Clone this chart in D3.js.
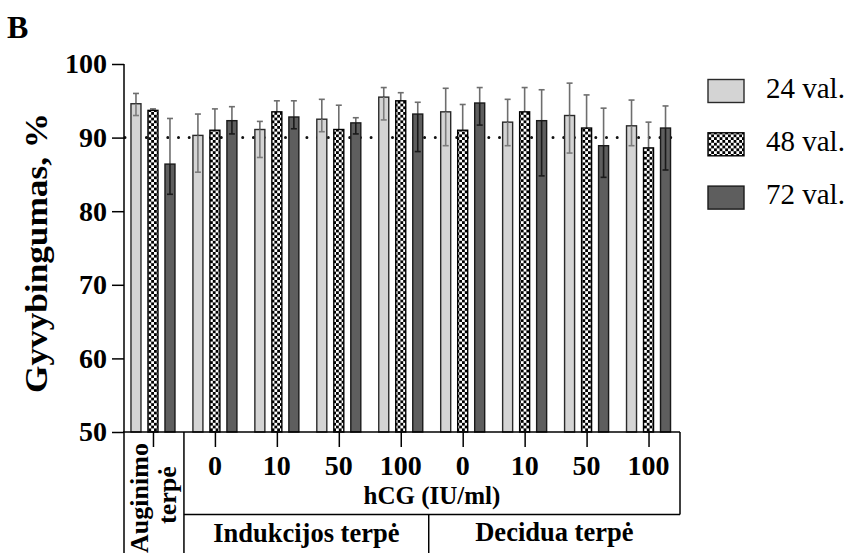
<!DOCTYPE html>
<html>
<head>
<meta charset="utf-8">
<script src="https://cdn.jsdelivr.net/npm/d3@7"></script>
<style>
  html, body { margin: 0; padding: 0; background: #fff; }
  svg { display: block; }
  text { font-family: "Liberation Serif", "Times New Roman", serif; fill: #000; }
</style>
</head>
<body>
<svg id="chart" width="851" height="553"></svg>
<script>
// Viability (%) per medium / hCG dose, measured after 24, 48 and 72 h
const groups = ["aug", "ind0", "ind10", "ind50", "ind100", "dec0", "dec10", "dec50", "dec100"];
const doseLabels = ["", "0", "10", "50", "100", "0", "10", "50", "100"];
const seriesNames = ["24 val.", "48 val.", "72 val."];

const values24 = [94.6, 90.3, 91.1, 92.5, 95.5, 93.5, 92.1, 93.0, 91.6];
const values48 = [93.7, 91.0, 93.5, 91.1, 95.0, 91.0, 93.5, 91.3, 88.6];
const values72 = [86.4, 92.3, 92.8, 92.0, 93.2, 94.7, 92.3, 88.9, 91.3];

// upper / lower whisker lengths
const errUp24 = [1.4, 2.9, 1.1, 2.7, 1.3, 3.2, 3.1, 4.4, 3.5];
const errDn24 = [1.6, 5.0, 3.8, 1.7, 3.1, 4.6, 3.2, 5.1, 2.7];
const errUp48 = [0.2, 2.9, 1.5, 3.3, 1.1, 3.5, 3.3, 4.5, 3.5];
const errDn48 = [0.2, 2.9, 1.5, 3.3, 1.1, 3.5, 3.3, 4.5, 3.5];
const errUp72 = [6.2, 1.9, 2.2, 0.7, 1.6, 2.1, 4.2, 5.1, 3.0];
const errDn72 = [4.1, 1.8, 1.6, 1.5, 5.1, 3.0, 7.5, 4.3, 5.7];

const yTicks = [50, 60, 70, 80, 90, 100];
const referenceLevel = 90;

const series = [
  { name: seriesNames[0], values: values24, up: errUp24, dn: errDn24, fill: "#d4d4d4", stroke: "#2a2a2a", inner: "#7c7c7c" },
  { name: seriesNames[1], values: values48, up: errUp48, dn: errDn48, fill: "url(#checker)", stroke: "#000", inner: null },
  { name: seriesNames[2], values: values72, up: errUp72, dn: errDn72, fill: "#5e5e5e", stroke: "#1a1a1a", inner: "#1a1a1a" }
];

const svg = d3.select("#chart");

// checkerboard fill for the 48 h bars
const defs = svg.append("defs");
const pat = defs.append("pattern")
  .attr("id", "checker").attr("patternUnits", "userSpaceOnUse")
  .attr("width", 5.6).attr("height", 5.6);
pat.append("rect").attr("width", 5.6).attr("height", 5.6).attr("fill", "#fff");
pat.append("rect").attr("width", 2.8).attr("height", 2.8).attr("fill", "#000");
pat.append("rect").attr("x", 2.8).attr("y", 2.8).attr("width", 2.8).attr("height", 2.8).attr("fill", "#000");

const axisX = 124, plotTop = 64, plotBottom = 432, plotRight = 680;

const y = d3.scaleLinear().domain([50, 100]).range([plotBottom, plotTop]);
const x = d3.scaleBand().domain(groups).range([122, 679.5]);
const inner = d3.scalePoint().domain(seriesNames).range([-17, 17]);
const barW = 10;
const cx = g => x(g) + x.bandwidth() / 2;

// panel letter
svg.append("text").attr("x", 7).attr("y", 38)
  .attr("font-size", 32).attr("font-weight", "bold").text("B");

// y axis
const yAxis = svg.append("g").attr("transform", `translate(${axisX},0)`)
  .call(d3.axisLeft(y).tickValues(yTicks).tickSize(12).tickPadding(5).tickFormat(d3.format("d")));
yAxis.attr("font-family", null).attr("font-size", null);
yAxis.select(".domain").remove();
yAxis.selectAll(".tick line").attr("stroke", "#000").attr("stroke-width", 1.5);
yAxis.selectAll(".tick text")
  .attr("font-size", 28).attr("font-weight", "bold").attr("fill", "#000");

svg.append("text")
  .attr("transform", "translate(47,253) rotate(-90)")
  .attr("text-anchor", "middle")
  .attr("font-size", 31).attr("font-weight", "bold")
  .attr("textLength", 280).attr("lengthAdjust", "spacingAndGlyphs")
  .text("Gyvybingumas, %");

// dotted reference line at 90 %
svg.append("line")
  .attr("x1", 125).attr("x2", 678)
  .attr("y1", y(referenceLevel)).attr("y2", y(referenceLevel))
  .attr("stroke", "#111").attr("stroke-width", 3)
  .attr("stroke-linecap", "round").attr("stroke-dasharray", "0 10.7");

// upper whiskers (drawn first, bars sit on top)
const whiskerColor = "#6e6e6e";
series.forEach(s => {
  const gS = svg.append("g");
  groups.forEach((g, i) => {
    const bx = cx(g) + inner(s.name);
    const v = s.values[i];
    gS.append("line").attr("x1", bx).attr("x2", bx)
      .attr("y1", y(v)).attr("y2", y(v + s.up[i]))
      .attr("stroke", whiskerColor).attr("stroke-width", 1.6);
    gS.append("line").attr("x1", bx - 3).attr("x2", bx + 3)
      .attr("y1", y(v + s.up[i])).attr("y2", y(v + s.up[i]))
      .attr("stroke", whiskerColor).attr("stroke-width", 1.6);
  });
});

// bars
series.forEach(s => {
  svg.append("g").selectAll("rect")
    .data(groups)
    .join("rect")
    .attr("x", g => cx(g) + inner(s.name) - barW / 2)
    .attr("y", (g, i) => y(s.values[i]))
    .attr("width", barW)
    .attr("height", (g, i) => plotBottom - y(s.values[i]))
    .attr("fill", s.fill)
    .attr("stroke", s.stroke).attr("stroke-width", 1.4);
});

// lower whiskers inside the bars
series.forEach(s => {
  const gS = svg.append("g");
  groups.forEach((g, i) => {
    const bx = cx(g) + inner(s.name);
    const v = s.values[i];
    if (s.inner) {
      gS.append("line").attr("x1", bx).attr("x2", bx)
        .attr("y1", y(v)).attr("y2", y(v - s.dn[i]))
        .attr("stroke", s.inner).attr("stroke-width", 1.6);
      gS.append("line").attr("x1", bx - 3).attr("x2", bx + 3)
        .attr("y1", y(v - s.dn[i])).attr("y2", y(v - s.dn[i]))
        .attr("stroke", s.inner).attr("stroke-width", 1.6);
    }
  });
});

// axis line, x ticks and the category table underneath
const frame = svg.append("g").attr("stroke", "#000").attr("stroke-width", 1.5).attr("fill", "none");
frame.append("line").attr("x1", axisX).attr("x2", axisX).attr("y1", plotTop).attr("y2", 553);
frame.append("line").attr("x1", axisX - 1).attr("x2", plotRight).attr("y1", plotBottom).attr("y2", plotBottom);
frame.append("line").attr("x1", plotRight).attr("x2", plotRight).attr("y1", plotBottom).attr("y2", 514.5);
const split1 = x(groups[1]);
const split2 = x(groups[5]) - 3;
frame.append("line").attr("x1", split1).attr("x2", split1).attr("y1", plotBottom).attr("y2", 553);
frame.append("line").attr("x1", split1).attr("x2", plotRight).attr("y1", 514.5).attr("y2", 514.5);
frame.append("line").attr("x1", split2).attr("x2", split2).attr("y1", 514.5).attr("y2", 553);

const xAxis = svg.append("g").attr("transform", `translate(0,${plotBottom})`)
  .call(d3.axisBottom(d3.scalePoint().domain(groups).range([cx(groups[0]), cx(groups[8])]))
    .tickSize(15).tickFormat(""));
xAxis.select(".domain").remove();
xAxis.selectAll(".tick line").attr("stroke", "#000").attr("stroke-width", 1.5);

// dose labels
svg.append("g").selectAll("text")
  .data(groups.slice(1))
  .join("text")
  .attr("x", g => cx(g)).attr("y", 475)
  .attr("text-anchor", "middle")
  .attr("font-size", 28).attr("font-weight", "bold")
  .text((g, i) => doseLabels[i + 1]);

svg.append("text").attr("x", (split1 + plotRight) / 2).attr("y", 504)
  .attr("text-anchor", "middle").attr("font-size", 25).attr("font-weight", "bold")
  .text("hCG (IU/ml)");

svg.append("text").attr("x", (split1 + split2) / 2).attr("y", 541.5)
  .attr("text-anchor", "middle").attr("font-size", 26.5).attr("font-weight", "bold")
  .text("Indukcijos terpė");

svg.append("text").attr("x", (split2 + plotRight) / 2).attr("y", 541)
  .attr("text-anchor", "middle").attr("font-size", 26.5).attr("font-weight", "bold")
  .text("Decidua terpė");

svg.append("text").attr("transform", "translate(147.5,498) rotate(-90)")
  .attr("text-anchor", "middle").attr("font-size", 26).attr("font-weight", "bold")
  .text("Auginimo");
svg.append("text").attr("transform", "translate(176,495) rotate(-90)")
  .attr("text-anchor", "middle").attr("font-size", 26).attr("font-weight", "bold")
  .text("terpė");

// legend
const legend = svg.append("g");
series.forEach((s, i) => {
  const ly = 79.5 + i * 53.3;
  legend.append("rect").attr("x", 708).attr("y", ly).attr("width", 36).attr("height", 23)
    .attr("fill", s.fill).attr("stroke", s.stroke).attr("stroke-width", 1.4);
  legend.append("text").attr("x", 766).attr("y", ly + 18)
    .attr("font-size", 29).text(s.name);
});
</script>
</body>
</html>
